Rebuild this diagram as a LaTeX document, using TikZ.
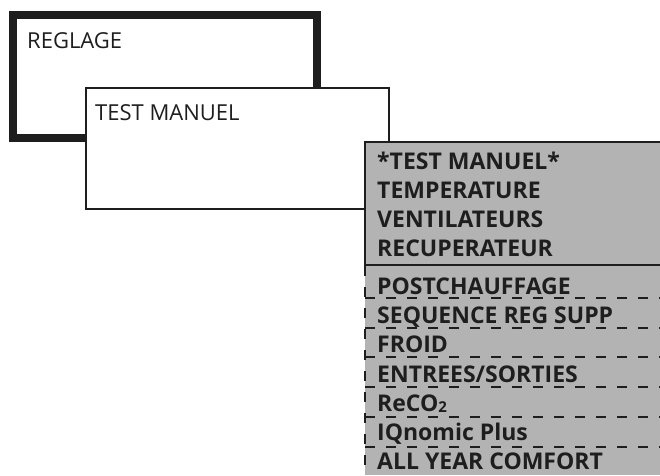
\documentclass[tikz,border=0pt]{standalone}
\usepackage{fontspec}
\setmainfont{Open Sans}
\definecolor{ink}{HTML}{1E1E1E}
\definecolor{menugray}{HTML}{B3B3B3}

\begin{document}
\begin{tikzpicture}[x=1pt, y=-1pt,
  title/.style={anchor=base west, inner sep=0pt, text=ink, font=\fontsize{22}{26}\selectfont},
  item/.style={anchor=base west, inner sep=0pt, text=ink, font=\fontsize{23}{27}\selectfont\bfseries},
  rowline/.style={draw=ink, line width=2pt, dash pattern=on 10pt off 11pt}]
\useasboundingbox (0,0) rectangle (660,475);
% back screen
\draw[ink, line width=8pt] (13,15) rectangle (317,138);
\node[title] (reglage) at (27,48) {REGLAGE};
% front screen
\filldraw[fill=white, draw=ink, line width=2pt] (86,88) rectangle (389,209);
\node[title] (testmanuel) at (95,120) {TEST MANUEL};
% menu list
\fill[menugray] (365,142) rectangle (660,475);
\draw[ink, line width=2pt] (660,142) -- (365,142) -- (365,265) -- (660,265);
\draw[rowline] (365,266) -- (365,475);
\foreach \y in {298,328,357,387,417,447}
  \draw[rowline] (365,\y) -- (660,\y);
\node[item] (head) at (377,169) {*TEST MANUEL*};
\node[item] (temp) at (377,198) {TEMPERATURE};
\node[item] (vent) at (377,227) {VENTILATEURS};
\node[item] (recup) at (377,256) {RECUPERATEUR};
\node[item] (post) at (377,294) {POSTCHAUFFAGE};
\node[item] (seq) at (377,323) {SEQUENCE REG SUPP};
\node[item] (froid) at (377,352) {FROID};
\node[item] (entrees) at (377,382) {ENTREES/SORTIES};
\node[item] (reco) at (377,411) {ReCO\raisebox{-1pt}{\fontsize{15}{15}\selectfont 2}};
\node[item] (iqnomic) at (377,440) {IQnomic Plus};
\node[item] (allyear) at (377,469) {ALL YEAR COMFORT};
\end{tikzpicture}
\end{document}
